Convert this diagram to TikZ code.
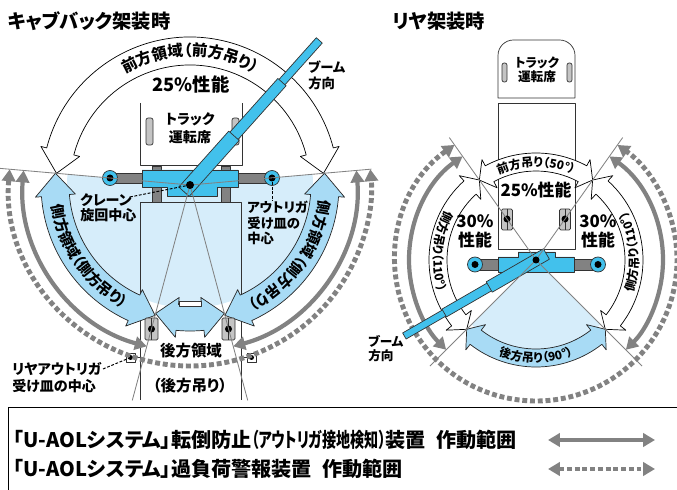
\documentclass[tikz,border=0pt]{standalone}
\usepackage{fontspec}
\setmainfont{Noto Sans CJK JP}[RawFeature=+palt]
\usetikzlibrary{arrows.meta,decorations.text}
\definecolor{craneblue}{RGB}{66,193,236}
\definecolor{fillblue}{RGB}{214,237,250}
\definecolor{bandblue}{RGB}{168,219,245}
\definecolor{armgray}{RGB}{130,130,130}
\definecolor{padgray}{RGB}{196,196,196}
\newcommand{\fs}[2]{\bfseries\fontsize{#1}{#2}\selectfont}
% band arrow: style, r, half width, head half width, start, end, head angle
\newcommand{\bandarc}[7]{%
  \filldraw[#1] (#5:#2) -- ({#5+(#7)}:{#2+#4}) -- ({#5+(#7)}:{#2+#3})
    arc[start angle={#5+(#7)},end angle={#6-(#7)},radius={#2+#3}]
    -- ({#6-(#7)}:{#2+#4}) -- (#6:#2) -- ({#6-(#7)}:{#2-#4}) -- ({#6-(#7)}:{#2-#3})
    arc[start angle={#6-(#7)},end angle={#5+(#7)},radius={#2-#3}]
    -- ({#5+(#7)}:{#2-#4}) -- cycle;}
% text along a band: size, r, start, end, text
\newcommand{\arctext}[5]{%
  \path[decorate,decoration={text along path,text align=center,
    text={|\fs{#1}{#1}|#5}}] (#3:#2) arc[start angle=#3,end angle=#4,radius=#2];}
\begin{document}
\begin{tikzpicture}[x=0.025cm,y=-0.025cm,line join=round,
  lbl/.style={inner sep=0pt,align=left,font=\fs{10}{11.3}},
  ray/.style={armgray,line width=0.6pt},
  leader/.style={dash pattern=on 2pt off 1.2pt,line width=0.7pt},
  garrow/.style={armgray,line width=3pt,{Triangle[length=8.5pt,width=9.5pt]}-{Triangle[length=8.5pt,width=9.5pt]}},
  gdash/.style={garrow,line width=3.5pt,dash pattern=on 3.5pt off 2pt},
  whiteband/.style={draw=black,fill=white,line width=0.5pt},
  blueband/.style={draw=black!85,fill=bandblue,line width=0.5pt},
  part/.style={draw=black!80,line width=0.5pt}]
\useasboundingbox (0,0) rectangle (677,490);

% ---- cab back mounting
\coordinate (ctrL) at (190,185);
\begin{scope}[shift={(ctrL)}]
  \fill[fillblue] (0,0) -- (-5:123) arc[start angle=-5,end angle=185,radius=123] -- cycle;
\end{scope}
\draw[part] (140,400) -- (140,202) -- (241,202) -- (241,400);
\draw[part] (140,103) -- (140,165) -- (242,165) -- (242,103);
\filldraw[part,fill=padgray,rounded corners=1.5pt] (146,118) rectangle (153,145);
\filldraw[part,fill=padgray,rounded corners=1.5pt] (232,118) rectangle (239,145);
\begin{scope}[shift={(ctrL)}]
  \bandarc{whiteband}{134}{14}{20}{185}{355}{9.5}
  \bandarc{blueband}{135}{14}{20}{185}{105}{-9.5}
  \bandarc{blueband}{135}{14}{20}{-5}{75}{9.5}
  \bandarc{blueband}{133}{13}{20}{105}{75}{-9.5}
  \arctext{11}{129}{200}{340}{前方領域（前方吊り）}
  \arctext{10.5}{140}{182}{108}{側方領域（側方吊り）}
  \arctext{10.5}{130}{-2}{72}{側方領域（側方吊り）}
\end{scope}
\filldraw[part,fill=white] (179,301) rectangle (201,306);
\filldraw[part,fill=armgray] (152,166) rectangle (161,202);
\filldraw[part,fill=armgray] (221,166) rectangle (230,202);
\filldraw[part,fill=armgray] (110,173.5) rectangle (272,183);
\filldraw[part,fill=craneblue] (142,170) -- (238,170) -- (238,187) -- (217,187)
  -- (217,196) -- (167,196) -- (167,187) -- (142,187) -- cycle;
\foreach \x in {110,272} {
  \filldraw[part,fill=craneblue] (\x,178) circle[radius=7.5];
  \fill (\x,178) circle[radius=3.5];
}
\foreach \x in {151.5,228.5} {
  \filldraw[part,fill=padgray,rounded corners=1pt] (\x-6.5,318) rectangle (\x+6.5,340);
  \draw[part] (\x,318) -- (\x,340);
  \fill (\x,329) circle[radius=3.5];
}
\filldraw[part,fill=white] (126,353) rectangle (135,362);
\fill (130.5,357.5) circle[radius=2.5];
\draw[part] (135,357.5) -- (140,357.5);
\filldraw[part,fill=white] (247,353) rectangle (256,362);
\fill (251.5,357.5) circle[radius=2.5];
\draw[part] (241,357.5) -- (247,357.5);
\begin{scope}[shift={(ctrL)}]
  \draw[garrow] (185:167) arc[start angle=185,end angle=105,radius=167];
  \draw[garrow] (-5:167) arc[start angle=-5,end angle=75,radius=167];
  \draw[gdash] (185:181) arc[start angle=185,end angle=-5,radius=181];
\end{scope}
\begin{scope}[shift={(ctrL)},rotate=48.2]
  \filldraw[part,fill=craneblue] (130,-4) rectangle (194,4);
  \filldraw[part,fill=craneblue] (60,-5.5) rectangle (138,5.5);
  \filldraw[part,fill=craneblue] (-9,-7) rectangle (66,7);
\end{scope}
\begin{scope}[shift={(ctrL)}]
  \draw[ray] (185:191) -- (0,0) -- (-5:182);
  \draw[ray] (105:223) -- (0,0) -- (75:223);
\end{scope}
\fill (ctrL) circle[radius=4];

\node[anchor=west,inner sep=0pt,font=\fs{13.7}{15}] (titleL) at (8,21) {キャブバック架装時};
\node[font=\fs{13}{15}] (perfL) at (191,84) {25\%性能};
\node[lbl,align=center,font=\fs{10}{12.8}] (cabL) at (190,128) {トラック\\運転席};
\node[lbl,anchor=north west,font=\fs{9.5}{10.7}] (boomL) at (308,61) {ブーム\\方向};
\node[lbl,anchor=north west] (crlbl) at (80,193) {クレーン\\旋回中心};
\coordinate (crtip) at (130,197);
\draw[leader] (crtip) -- (ctrL);
\coordinate (orR) at (272,178);
\node[lbl,anchor=north west,font=\fs{9.5}{11}] (orlbl) at (247,201) {アウトリガ\\受け皿の\\中心};
\draw[leader] (orR) -- (orR |- orlbl.north);
\node[font=\fs{11}{12}] (rearA) at (191,351) {後方領域};
\node[font=\fs{11}{12}] (rearB) at (190,386) {（後方吊り）};
\node[lbl,anchor=north west,font=\fs{10}{12}] (rrlbl) at (12,362) {リヤアウトリガ\\受け皿の中心};
\coordinate (rrtip) at (103,369);
\coordinate (rbox) at (130.5,357.5);
\draw[leader] (rrtip) -- (rbox);

% ---- rear mounting
\coordinate (ctrR) at (536,260);
\begin{scope}[shift={(ctrR)}]
  \fill[fillblue] (0,0) -- (45:91) arc[start angle=45,end angle=135,radius=91] -- cycle;
\end{scope}
\draw[part] (498,98) [rounded corners=11pt] -- (498,40) -- (575,40) [sharp corners] -- (575,98) -- cycle;
\filldraw[part,fill=padgray,rounded corners=1.5pt] (502,63) rectangle (507,82);
\filldraw[part,fill=padgray,rounded corners=1.5pt] (567,63) rectangle (572,82);
\draw[part] (498,103) rectangle (575,249);
\begin{scope}[shift={(ctrR)}]
  \bandarc{whiteband}{98}{9}{16}{234.7}{305.3}{7}
  \bandarc{whiteband}{98}{9}{16}{234.7}{135}{-7}
  \bandarc{whiteband}{98}{9}{16}{-54.7}{45}{7}
  \bandarc{blueband}{98}{9}{16}{45}{135}{7}
  \arctext{8.5}{93.5}{238}{302}{前方吊り（50°）}
  \arctext{8.5}{102.5}{230}{140}{側方吊り（110°）}
  \arctext{8.5}{102.5}{40}{-50}{側方吊り（110°）}
  \arctext{8.5}{102.5}{130}{50}{後方吊り（90°）}
\end{scope}
\foreach \x in {507,565} {
  \filldraw[part,fill=padgray,rounded corners=1pt] (\x-5.5,209) rectangle (\x+5.5,230);
  \draw[part] (\x,209) -- (\x,230);
  \fill (\x,219) circle[radius=3.5];
}
\begin{scope}[shift={(ctrR)}]
  \draw[garrow] (234.7:127) arc[start angle=234.7,end angle=135,radius=127];
  \draw[garrow] (-54.7:127) arc[start angle=-54.7,end angle=45,radius=127];
  \draw[gdash] (234.7:141) arc[start angle=234.7,end angle=-54.7,radius=141];
\end{scope}
\filldraw[part,fill=armgray] (475,259) rectangle (598,270);
\filldraw[part,fill=craneblue] (518,252) -- (555,252) -- (555,257) -- (574,257)
  -- (574,272) -- (498,272) -- (498,257) -- (518,257) -- cycle;
\foreach \x in {475,598} {
  \filldraw[part,fill=craneblue] (\x,264.5) circle[radius=7.5];
  \fill (\x,264.5) circle[radius=3.5];
}
\begin{scope}[shift={(ctrR)},rotate=210]
  \filldraw[part,fill=craneblue] (100,-3.5) rectangle (152,3.5);
  \filldraw[part,fill=craneblue] (50,-4.5) rectangle (106,4.5);
  \filldraw[part,fill=craneblue] (-12,-6) rectangle (54,6);
\end{scope}
\begin{scope}[shift={(ctrR)}]
  \draw[ray] (234.7:150) -- (0,0) -- (45:150);
  \draw[ray] (305.3:150) -- (0,0) -- (135:150);
\end{scope}
\fill (ctrR) circle[radius=3.5];

\node[anchor=west,inner sep=0pt,font=\fs{13.7}{15}] (titleR) at (392,21) {リヤ架装時};
\node[lbl,align=center,font=\fs{9}{10.3}] (cabR) at (537,70) {トラック\\運転席};
\node[font=\fs{12}{13}] (perfF) at (536,190) {25\%性能};
\node[lbl,align=center,font=\fs{12}{13.5}] (perfSL) at (475,231) {30\%\\性能};
\node[lbl,align=center,font=\fs{12}{13.5}] (perfSR) at (598,231) {30\%\\性能};
\node[lbl,anchor=north west,font=\fs{9}{10}] (boomR) at (368,335) {ブーム\\方向};

% ---- legend
\draw[line width=0.6pt] (8,490) -- (8,407) -- (677,407);
\node[anchor=west,inner sep=0pt,font=\fs{14.3}{15}] (legA) at (13,440)
  {「U-AOLシステム」転倒防止\scalebox{0.7}[1]{（アウトリガ接地検知）}装置\hspace{0.5em}作動範囲};
\node[anchor=west,inner sep=0pt,font=\fs{14.3}{15}] (legB) at (13,469)
  {「U-AOLシステム」過負荷警報装置\hspace{0.5em}作動範囲};
\draw[garrow] (548,440) -- (655,440);
\draw[gdash] (548,469) -- (655,469);
\end{tikzpicture}
\end{document}
